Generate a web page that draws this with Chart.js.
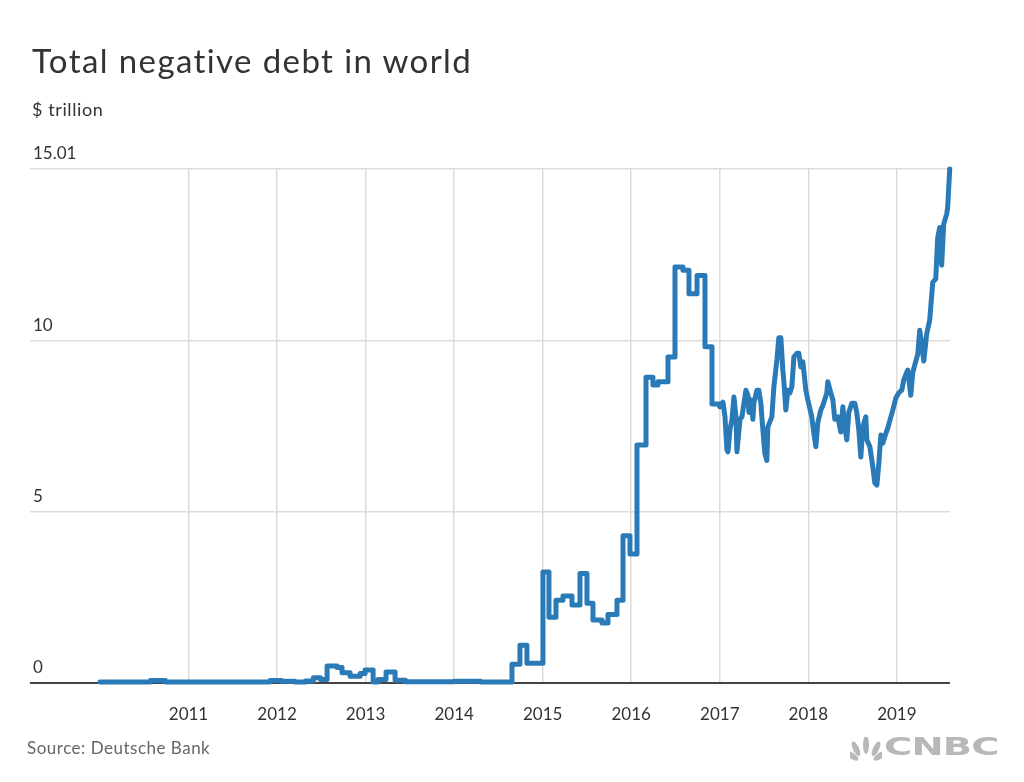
<!DOCTYPE html>
<html><head><meta charset="utf-8">
<script src="https://cdn.jsdelivr.net/npm/chart.js@4"></script>
<style>
body{margin:0;background:#fff;width:1024px;height:782px;overflow:hidden;position:relative;font-family:Lato,"Open Sans",sans-serif;}
#c{position:absolute;left:0;top:0;}
.t{position:absolute;white-space:nowrap;}
</style></head><body>
<canvas id="c" width="1024" height="782"></canvas>
<div class="t" style="left:32px;top:40px;font-size:33px;letter-spacing:1.4px;color:#333;">Total negative debt in world</div>
<div class="t" style="left:32px;top:98px;font-size:18px;letter-spacing:0.6px;color:#333;">$ trillion</div>
<div class="t" style="left:27px;top:737px;font-size:17px;letter-spacing:0.5px;color:#666;">Source: Deutsche Bank</div>
<svg style="position:absolute;left:850px;top:737px" width="32" height="24" viewBox="0 0 32 24">
  <g fill="#b8b8b8">
    <ellipse cx="6" cy="14" rx="3" ry="7" transform="rotate(-55 9 20)"/>
    <ellipse cx="10" cy="10" rx="3" ry="8" transform="rotate(-25 12 20)"/>
    <ellipse cx="16" cy="8" rx="3" ry="9"/>
    <ellipse cx="22" cy="10" rx="3" ry="8" transform="rotate(25 20 20)"/>
    <ellipse cx="26" cy="14" rx="3" ry="7" transform="rotate(55 23 20)"/>
  </g>
</svg>
<div class="t" style="left:884px;top:733px;font-family:'DejaVu Sans';font-weight:bold;font-size:24px;color:#b8b8b8;transform:scaleX(1.6);transform-origin:left top;letter-spacing:-0.5px;">CNBC</div>
<script>
// Step-shaped part of the series (decimal year, $ trillion)
const stepYears = [2010.0,2010.57,2010.74,2011.92,2012.05,2012.2,2012.32,2012.41,2012.49,2012.565,2012.678,2012.734,2012.825,2012.938,2012.994,2013.085,2013.141,2013.231,2013.333,2013.45,2014.0,2014.3,2014.653,2014.743,2014.822,2015.003,2015.071,2015.150,2015.229,2015.331,2015.421,2015.500,2015.568,2015.670,2015.737,2015.839,2015.907,2015.986,2016.065,2016.167,2016.245,2016.302,2016.415,2016.494,2016.584,2016.652,2016.743,2016.833,2016.912,2017.002];
const stepValues = [0.03,0.07,0.03,0.07,0.05,0.03,0.06,0.15,0.1,0.5,0.45,0.3,0.2,0.28,0.38,0.03,0.1,0.32,0.08,0.04,0.05,0.03,0.55,1.1,0.58,3.24,1.92,2.42,2.54,2.28,3.2,2.33,1.84,1.75,2.0,2.42,4.3,3.77,6.95,8.93,8.7,8.8,9.52,12.15,12.05,11.37,11.9,9.82,8.15,8.07];
// Volatile part of the series
const noisyYears = [2017.002,2017.036,2017.059,2017.081,2017.093,2017.115,2017.138,2017.160,2017.183,2017.194,2017.228,2017.250,2017.295,2017.318,2017.329,2017.351,2017.374,2017.385,2017.419,2017.441,2017.464,2017.475,2017.509,2017.532,2017.543,2017.588,2017.611,2017.645,2017.667,2017.690,2017.712,2017.724,2017.746,2017.769,2017.792,2017.814,2017.837,2017.871,2017.893,2017.915,2017.938,2017.972,2017.994,2018.039,2018.062,2018.085,2018.107,2018.141,2018.164,2018.209,2018.220,2018.254,2018.277,2018.299,2018.333,2018.367,2018.390,2018.412,2018.435,2018.457,2018.491,2018.525,2018.547,2018.570,2018.593,2018.615,2018.649,2018.661,2018.695,2018.729,2018.751,2018.774,2018.796,2018.819,2018.841,2018.864,2018.898,2018.932,2018.954,2018.988,2019.021,2019.055,2019.078,2019.100,2019.123,2019.157,2019.179,2019.202,2019.236,2019.258,2019.281,2019.304,2019.337,2019.371,2019.405,2019.439,2019.461,2019.484,2019.506,2019.529,2019.563,2019.574,2019.597];
const noisyValues = [8.07,8.2,7.77,6.8,6.75,7.4,7.7,8.35,7.77,6.75,7.7,7.77,8.55,8.4,7.9,8.27,7.7,8.17,8.55,8.55,8.17,7.77,6.7,6.5,7.48,7.77,8.65,9.43,10.08,10.08,9.14,8.8,7.97,8.55,8.47,8.65,9.52,9.63,9.63,9.23,9.38,8.55,8.27,7.77,7.3,6.9,7.6,7.97,8.1,8.47,8.8,8.47,8.27,7.7,7.77,7.33,8.07,7.48,7.1,7.9,8.17,8.17,7.9,7.4,6.6,7.48,7.77,7.1,6.9,6.3,5.84,5.78,6.4,7.24,7.0,7.2,7.45,7.77,7.97,8.32,8.47,8.55,8.85,9.0,9.14,8.4,9.05,9.29,9.6,10.3,9.9,9.4,10.2,10.6,11.7,11.8,13.0,13.3,12.2,13.4,13.7,13.9,15.01];
const xTickYears = [2011,2012,2013,2014,2015,2016,2017,2018,2019];
const yTickValues = [0,5,10,15.01];
const yTickLabels = ['0','5','10','15.01'];

const lineColor = '#2a7ab8';
const toPts = (xs, ys) => xs.map((x, i) => ({x, y: ys[i]}));

new Chart(document.getElementById('c'), {
  type: 'line',
  data: {
    datasets: [
      {data: toPts(stepYears, stepValues), stepped: true, borderColor: lineColor, borderWidth: 5, pointRadius: 0, fill: false, clip: false, borderJoinStyle: 'round', borderCapStyle: 'round'},
      {data: toPts(noisyYears, noisyValues), borderColor: lineColor, borderWidth: 5, pointRadius: 0, fill: false, clip: false, tension: 0, borderJoinStyle: 'round', borderCapStyle: 'round'}
    ]
  },
  options: {
    responsive: false,
    devicePixelRatio: 1,
    animation: false,
    layout: {padding: {left: 30, right: 74, top: 169, bottom: 59}},
    plugins: {legend: {display: false}, tooltip: {enabled: false}},
    scales: {
      x: {
        type: 'linear', min: 2009.21, max: 2019.6,
        afterBuildTicks: s => { s.ticks = xTickYears.map(v => ({value: v})); },
        afterFit: s => { s.height = 40; },
        grid: {color: '#dcdcdc', lineWidth: 1.5, drawTicks: false},
        border: {display: false},
        ticks: {padding: 21, color: '#333', font: {family: 'Lato', size: 17}, callback: v => String(v)}
      },
      y: {
        min: 0, max: 15.01,
        afterBuildTicks: s => { s.ticks = yTickValues.map(v => ({value: v})); },
        afterFit: s => { s.width = 0; },
        grid: {color: c => c.tick && c.tick.value === 0 ? '#444' : '#dcdcdc', lineWidth: c => c.tick && c.tick.value === 0 ? 2 : 1.5, drawTicks: false},
        border: {display: false},
        ticks: {mirror: true, padding: 3, labelOffset: -15, color: '#333', font: {family: 'Lato', size: 17}, callback: (v, i) => yTickLabels[i]}
      }
    }
  }
});
</script>
</body></html>
